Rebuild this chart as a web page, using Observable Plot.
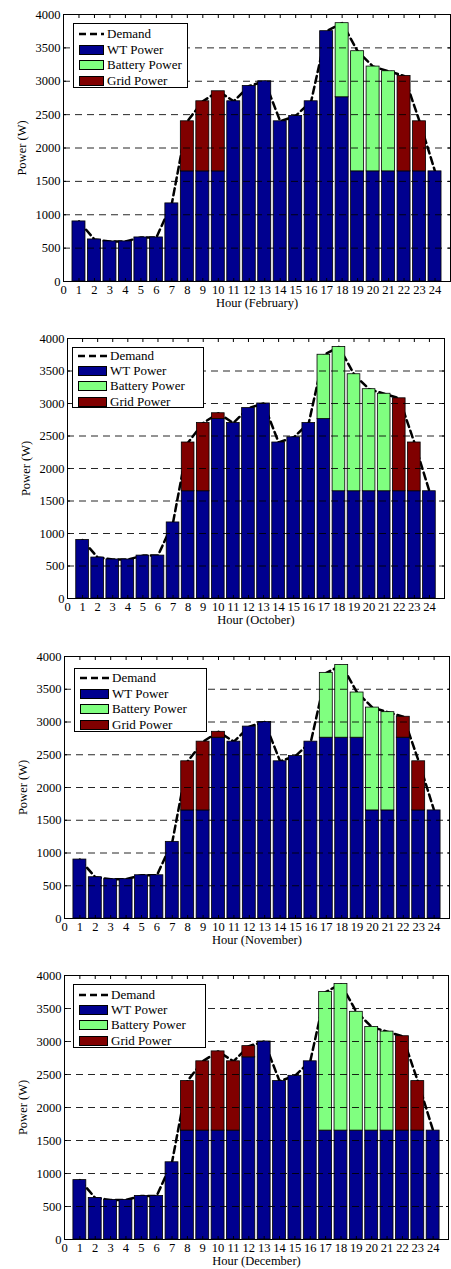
<!DOCTYPE html>
<html>
<head>
<meta charset="utf-8">
<script src="https://cdn.jsdelivr.net/npm/d3@7"></script>
<script src="https://cdn.jsdelivr.net/npm/@observablehq/plot@0.6"></script>
<style>
  body { margin: 0; background: #fff; }
  .panel { position: relative; width: 451px; overflow: hidden; }
  .panel > svg { position: absolute; left: 0; top: 0; }
  .legend { position: absolute; background: #fff; border: 1px solid #000; box-sizing: border-box;
            font-family: "Liberation Serif", "Times New Roman", serif; font-size: 13px; color: #000; }
  .row { display: flex; align-items: center; }
  .sw { flex: none; box-sizing: border-box; height: 10px; border: 1px solid #000; }
  .swl { flex: none; display: block; position: static; }
</style>
</head>
<body>
<div id="root"></div>
<script>
// ---------- data ----------
const hours = d3.range(1, 25);
const demand = [900,630,600,600,660,660,1170,2400,2700,2850,2700,2930,3000,2400,2480,2700,3750,3870,3450,3220,3150,3080,2400,1650];

const wtFeb  = [900,630,600,600,660,660,1170,1650,1650,1650,2700,2930,3000,2400,2480,2700,3750,2760,1650,1650,1650,1650,1650,1650];
const batFeb = [0,0,0,0,0,0,0,0,0,0,0,0,0,0,0,0,0,1110,1800,1570,1500,0,0,0];
const gridFeb= [0,0,0,0,0,0,0,750,1050,1200,0,0,0,0,0,0,0,0,0,0,0,1430,750,0];

const wtOct  = [900,630,600,600,660,660,1170,1650,1650,2760,2700,2930,3000,2400,2480,2700,2760,1650,1650,1650,1650,1650,1650,1650];
const batOct = [0,0,0,0,0,0,0,0,0,0,0,0,0,0,0,0,990,2220,1800,1570,1500,0,0,0];
const gridOct= [0,0,0,0,0,0,0,750,1050,90,0,0,0,0,0,0,0,0,0,0,0,1430,750,0];

const wtNov  = [900,630,600,600,660,660,1170,1650,1650,2760,2700,2930,3000,2400,2480,2700,2760,2760,2760,1650,1650,2760,1650,1650];
const batNov = [0,0,0,0,0,0,0,0,0,0,0,0,0,0,0,0,990,1110,690,1570,1500,0,0,0];
const gridNov= [0,0,0,0,0,0,0,750,1050,90,0,0,0,0,0,0,0,0,0,0,0,320,750,0];

const wtDec  = [900,630,600,600,660,660,1170,1650,1650,1650,1650,2760,3000,2400,2480,2700,1650,1650,1650,1650,1650,1650,1650,1650];
const batDec = [0,0,0,0,0,0,0,0,0,0,0,0,0,0,0,0,2100,2220,1800,1570,1500,0,0,0];
const gridDec= [0,0,0,0,0,0,0,750,1050,1200,1050,170,0,0,0,0,0,0,0,0,0,1430,750,0];

const months = ["February", "October", "November", "December"];
const seriesNames = ["WT Power", "Battery Power", "Grid Power"];
const seriesColors = ["#00008f", "#80ff80", "#800000"];
const xTicks = d3.range(0, 25);
const yTicks = d3.range(0, 4001, 500);
const gridTicks = d3.range(500, 4000, 500);

// ---------- layout ----------
const panels = [
  {month: months[0], wt: wtFeb, bat: batFeb, grid: gridFeb, h: 320, ml: 63, mr: 1, mt: 14, mb: 39,
   lg: {left: 73, top: 23, w: 115, h: 65, sw: 25, pad: 5, rh: 15.7, pt: 2}},
  {month: months[1], wt: wtOct, bat: batOct, grid: gridOct, h: 320, ml: 67, mr: 7, mt: 18, mb: 42,
   lg: {left: 72, top: 27, w: 132, h: 61, sw: 29, pad: 5, rh: 15.3, pt: 0}},
  {month: months[2], wt: wtNov, bat: batNov, grid: gridNov, h: 320, ml: 64, mr: 2, mt: 16, mb: 42,
   lg: {left: 74, top: 28, w: 133, h: 64, sw: 29, pad: 5, rh: 15.7, pt: 1}},
  {month: months[3], wt: wtDec, bat: batDec, grid: gridDec, h: 309, ml: 64, mr: 3, mt: 15, mb: 30,
   lg: {left: 73, top: 24, w: 133, h: 64, sw: 29, pad: 5, rh: 15.3, pt: 2}}
];

const font = "'Liberation Serif', 'Times New Roman', serif";
const root = document.getElementById("root");

for (const p of panels) {
  const rows = [];
  hours.forEach((h, i) => {
    let base = 0;
    [p.wt[i], p.bat[i], p.grid[i]].forEach((v, k) => {
      if (v > 0) {
        rows.push({x1: h - 0.42, x2: h + 0.42, y1: base, y2: base + v, series: seriesNames[k]});
        base += v;
      }
    });
  });

  const chart = Plot.plot({
    width: 451, height: p.h,
    marginLeft: p.ml, marginRight: p.mr, marginTop: p.mt, marginBottom: p.mb,
    x: {type: "linear", domain: [0, 25]},
    y: {domain: [0, 4000]},
    color: {domain: seriesNames, range: seriesColors},
    style: {fontFamily: font, fontSize: "12.5px", color: "#000", background: "#fff", overflow: "visible"},
    marks: [
      Plot.line(hours, {x: hours, y: demand, stroke: "#000", strokeWidth: 2.5, strokeDasharray: "7,4"}),
      Plot.rect(rows, {x1: "x1", x2: "x2", y1: "y1", y2: "y2", fill: "series", stroke: "#000", strokeWidth: 0.8}),
      Plot.gridY(gridTicks, {stroke: "#000", strokeOpacity: 0.85, strokeWidth: 1, strokeDasharray: "7,5"}),
      Plot.frame({stroke: "#000", strokeWidth: 1}),
      Plot.axisX(xTicks, {anchor: "bottom", tickSize: 0, tickPadding: 4, tickFormat: d => String(d),
        label: `Hour (${p.month})`, labelAnchor: "center", labelOffset: 25, labelArrow: "none"}),
      Plot.axisX(d3.range(1, 25), {anchor: "bottom", tickSize: -3, text: null, label: null}),
      Plot.axisX(d3.range(1, 25), {anchor: "top", tickSize: -3, text: null, label: null}),
      Plot.axisY(yTicks, {anchor: "left", tickSize: 0, tickPadding: 3, tickFormat: d => String(d),
        label: "Power (W)", labelAnchor: "center", labelOffset: 46, labelArrow: "none"}),
      Plot.axisY(gridTicks, {anchor: "left", tickSize: -3, text: null, label: null}),
      Plot.axisY(gridTicks, {anchor: "right", tickSize: -3, text: null, label: null})
    ]
  });

  const div = document.createElement("div");
  div.className = "panel";
  div.style.height = p.h + "px";
  div.appendChild(chart);

  const lg = document.createElement("div");
  lg.className = "legend";
  Object.assign(lg.style, {left: p.lg.left + "px", top: p.lg.top + "px", width: p.lg.w + "px", height: p.lg.h + "px",
    paddingLeft: p.lg.pad + "px", paddingTop: p.lg.pt + "px"});
  const items = [{name: "Demand", line: true}].concat(seriesNames.map((n, k) => ({name: n, color: seriesColors[k]})));
  for (const it of items) {
    const r = document.createElement("div");
    r.className = "row";
    r.style.height = p.lg.rh + "px";
    if (it.line) {
      r.innerHTML = `<svg class="swl" width="${p.lg.sw}" height="10"><line x1="0" y1="5" x2="${p.lg.sw}" y2="5" stroke="#000" stroke-width="2.5" stroke-dasharray="7,4"/></svg>`;
    } else {
      r.innerHTML = `<div class="sw" style="width:${p.lg.sw}px;background:${it.color}"></div>`;
    }
    const t = document.createElement("span");
    t.textContent = it.name;
    t.style.marginLeft = "3px";
    r.appendChild(t);
    lg.appendChild(r);
  }
  div.appendChild(lg);
  root.appendChild(div);
}
</script>
</body>
</html>
